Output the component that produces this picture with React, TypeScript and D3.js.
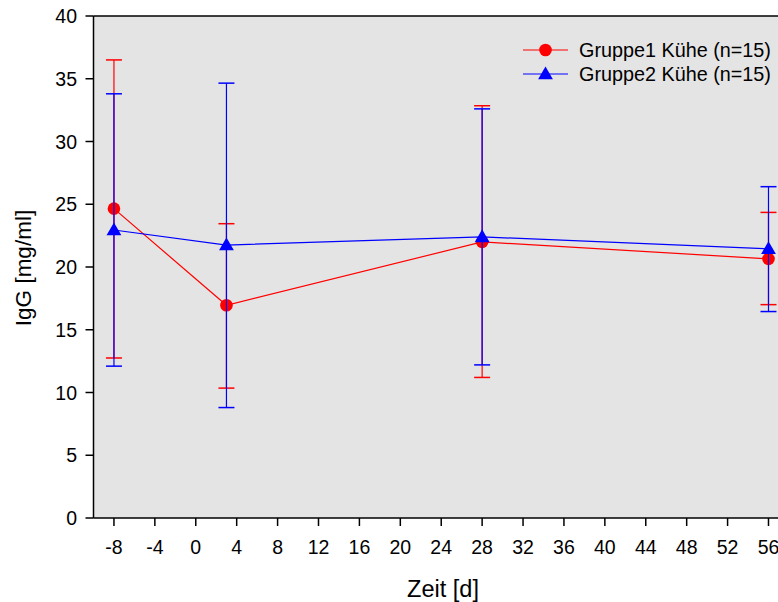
import React from "react";
import * as d3 from "d3";

const days = [-8, 3, 28, 56];
const g1Mean = [24.65, 16.95, 22.0, 20.65];
const g1Upper = [36.5, 23.45, 32.85, 24.35];
const g1Lower = [12.75, 10.35, 11.2, 17.0];
const g2Mean = [22.95, 21.75, 22.4, 21.45];
const g2Upper = [33.8, 34.65, 32.6, 26.4];
const g2Lower = [12.1, 8.8, 12.2, 16.45];
const xTicks = [-8, -4, 0, 4, 8, 12, 16, 20, 24, 28, 32, 36, 40, 44, 48, 52, 56];
const yTicks = [0, 5, 10, 15, 20, 25, 30, 35, 40];
const seriesNames = ["Gruppe1 Kühe (n=15)", "Gruppe2 Kühe (n=15)"];
const colors = ["#FF0000", "#0000FF"];

const W = 778;
const H = 602;
const FONT = "Arial, 'Liberation Sans', Helvetica, sans-serif";

export default function App() {
  const x = d3.scaleLinear().domain([-10, 60]).range([93.5, 809.4]);
  const y = d3.scaleLinear().domain([0, 40]).range([518, 16]);
  const line = d3
    .line<[number, number]>()
    .x((d) => x(d[0]))
    .y((d) => y(d[1]));

  const series = [
    { mean: g1Mean, up: g1Upper, lo: g1Lower, color: colors[0], shape: "circle" },
    { mean: g2Mean, up: g2Upper, lo: g2Lower, color: colors[1], shape: "triangle" },
  ];
  const tri = d3.symbol().type(d3.symbolTriangle).size(95)();
  const cap = 8;

  const x0 = x(-10);
  const x1 = x(60);
  const yTop = y(40);
  const yBot = y(0);

  return (
    <svg
      width={W}
      height={H}
      style={{ position: "absolute", left: 0, top: 0, background: "#fff" }}
      fontFamily={FONT}
    >
      <rect x={x0} y={yTop} width={x1 - x0} height={yBot - yTop} fill="#E4E4E4" />
      {series.map((s, si) => (
        <g key={si}>
          {days.map((d, i) => (
            <g key={i} stroke={s.color} strokeWidth={1.2}>
              <line x1={x(d)} x2={x(d)} y1={y(s.up[i])} y2={y(s.lo[i])} />
              <line x1={x(d) - cap} x2={x(d) + cap} y1={y(s.up[i])} y2={y(s.up[i])} strokeWidth={1.5} />
              <line x1={x(d) - cap} x2={x(d) + cap} y1={y(s.lo[i])} y2={y(s.lo[i])} strokeWidth={1.5} />
            </g>
          ))}
          <path
            d={line(days.map((d, i) => [d, s.mean[i]]) as [number, number][]) || ""}
            fill="none"
            stroke={s.color}
            strokeWidth={1.2}
          />
          {days.map((d, i) =>
            s.shape === "circle" ? (
              <circle key={i} cx={x(d)} cy={y(s.mean[i])} r={6.3} fill={s.color} />
            ) : (
              <path key={i} d={tri || ""} transform={`translate(${x(d)},${y(s.mean[i]) + 1})`} fill={s.color} />
            )
          )}
        </g>
      ))}
      {/* frame */}
      <line x1={x0} x2={x1} y1={yTop} y2={yTop} stroke="#000" strokeWidth={1.5} />
      <line x1={x0} x2={x1} y1={yBot} y2={yBot} stroke="#000" strokeWidth={1.5} />
      <line x1={x0} x2={x0} y1={yTop} y2={yBot} stroke="#000" strokeWidth={1.5} />
      {yTicks.map((t) => (
        <g key={t}>
          <line x1={x0 - 8} x2={x0} y1={y(t)} y2={y(t)} stroke="#000" strokeWidth={1.5} />
          <text x={77} y={y(t)} dy="0.36em" textAnchor="end" fontSize={19.5} fill="#000">
            {t}
          </text>
        </g>
      ))}
      {xTicks.map((t) => (
        <g key={t}>
          <line x1={x(t)} x2={x(t)} y1={yBot} y2={yBot + 8} stroke="#000" strokeWidth={1.5} />
          <text x={x(t)} y={554} textAnchor="middle" fontSize={19.5} fill="#000">
            {t}
          </text>
        </g>
      ))}
      <text x={443} y={597} textAnchor="middle" fontSize={23.5} fill="#000">
        Zeit [d]
      </text>
      <text
        transform={`translate(31,268) rotate(-90)`}
        textAnchor="middle"
        fontSize={22.5}
        fill="#000"
      >
        IgG [mg/ml]
      </text>
      {/* legend */}
      {seriesNames.map((n, i) => {
        const ly = 50 + i * 24;
        return (
          <g key={n}>
            <line x1={523} x2={568} y1={ly} y2={ly} stroke={colors[i]} strokeWidth={1.2} />
            {i === 0 ? (
              <circle cx={545.5} cy={ly} r={6.3} fill={colors[i]} />
            ) : (
              <path d={tri || ""} transform={`translate(545.5,${ly + 1})`} fill={colors[i]} />
            )}
            <text x={579} y={ly} dy="0.36em" fontSize={19.8} fill="#000">
              {n}
            </text>
          </g>
        );
      })}
    </svg>
  );
}
